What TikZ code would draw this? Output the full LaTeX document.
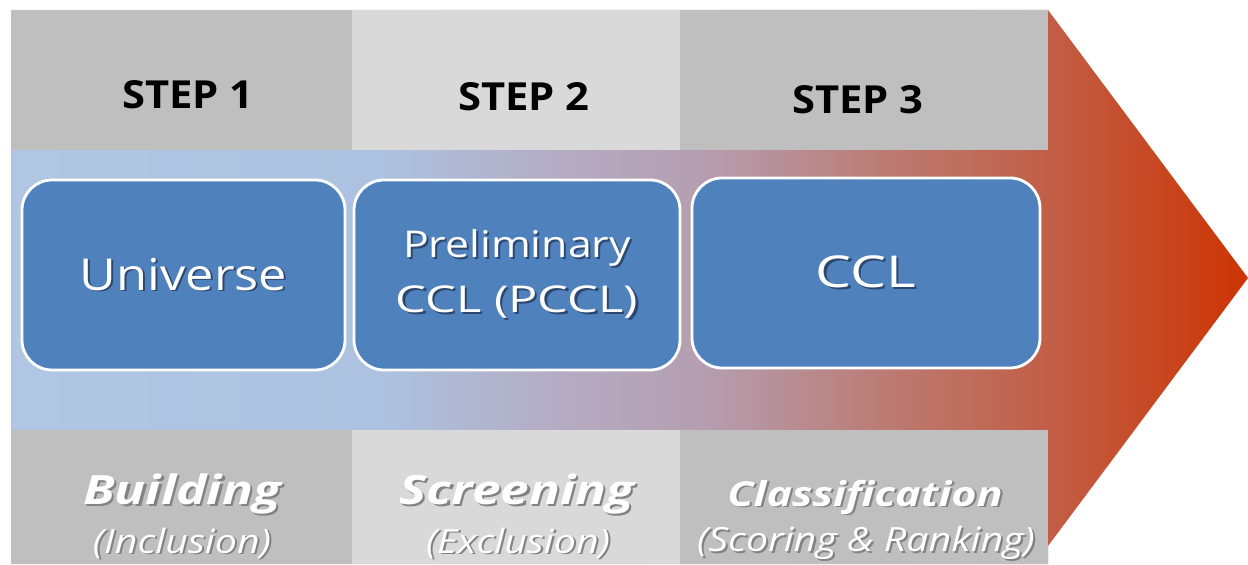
\documentclass[tikz,border=0pt]{standalone}
\usepackage{fontspec}
\setmainfont{Open Sans}

\definecolor{cellgray}{RGB}{191,191,191}
\definecolor{celllight}{RGB}{217,217,217}
\definecolor{boxblue}{RGB}{79,129,189}
\definecolor{bandA}{RGB}{176,198,227}
\definecolor{bandB}{RGB}{172,194,224}
\definecolor{bandC}{RGB}{180,172,195}
\definecolor{bandD}{RGB}{181,158,176}
\definecolor{bandE}{RGB}{188,120,110}
\definecolor{bandF}{RGB}{194,94,70}
\definecolor{bandG}{RGB}{205,52,2}
\definecolor{shadeblue}{RGB}{45,72,112}
\definecolor{shadegray}{RGB}{130,130,130}
\colorlet{txtshadow}{shadegray}

% light blue on the left, fading to rust at the tip
\pgfdeclarehorizontalshading{bandshade}{100bp}{%
  color(0bp)=(bandA); color(25bp)=(bandA); color(40bp)=(bandB);
  color(47bp)=(bandC); color(53bp)=(bandD); color(61bp)=(bandE);
  color(67bp)=(bandF); color(75bp)=(bandG); color(100bp)=(bandG)}

\newcommand{\widetext}[2][1.2]{\scalebox{#1}[1]{#2}}
\newcommand{\shadowtext}[1]{\makebox[0pt][l]{\hspace{1pt}\raisebox{-1pt}{\textcolor{txtshadow}{#1}}}#1}

\begin{document}
\begin{tikzpicture}[
  stagebox/.style={draw=white, line width=1.6pt, fill=boxblue, rounded corners=0.6cm,
    minimum height=3.8cm, inner sep=0pt, text=white, align=center,
    font=\fontsize{25}{30}\selectfont,
    execute at begin node={\colorlet{txtshadow}{shadeblue}}},
  steplabel/.style={font=\fontsize{22}{26}\selectfont\bfseries},
  phaselabel/.style={text=white, font=\fontsize{23}{27}\selectfont\bfseries\itshape},
  notelabel/.style={text=white, inner sep=0pt, font=\fontsize{19}{23}\selectfont\itshape}]

\useasboundingbox (0,0) rectangle (24.96,11.28);

% arrow body and head
\shade[shading=bandshade] (0.22,11.08) -- (20.96,11.08) -- (24.96,5.72) -- (20.96,0.36)
  -- (20.96,0) -- (0.22,0) -- cycle;

% grey cells above and below the band
\foreach \xa/\xb/\col in {0.22/7.04/cellgray, 7.04/13.6/celllight, 13.6/20.96/cellgray} {
  \fill[\col] (\xa,8.28) rectangle (\xb,11.08);
  \fill[\col] (\xa,0) rectangle (\xb,2.68);
}

\foreach \n/\x/\y in {1/3.76/9.38, 2/10.48/9.34, 3/17.16/9.28}
  \node[steplabel] (step\n) at (\x,\y) {\widetext[1.08]{STEP \n}};

% the three lists
\node[stagebox, minimum width=6.46cm] (universe) at (3.67,5.78) {\widetext[1.15]{\shadowtext{Universe}}};
\node[stagebox, minimum width=6.52cm, font=\fontsize{21}{31}\selectfont] (pccl) at (10.34,5.78)
  {\widetext[1.16]{\shadowtext{Preliminary}}\\\widetext[1.32]{\shadowtext{CCL (PCCL)}}};
\node[stagebox, minimum width=6.96cm] (ccl) at (17.32,5.82) {\widetext[1.3]{\shadowtext{CCL}}};

% what happens in each step
\node[phaselabel] (building) at (3.64,1.38) {\widetext[1.27]{\shadowtext{Building}}};
\node[notelabel] (inclusion) at (3.64,0.4) {\widetext[1.18]{\shadowtext{(Inclusion)}}};
\node[phaselabel] (screening) at (10.34,1.38) {\widetext[1.27]{\shadowtext{Screening}}};
\node[notelabel] (exclusion) at (10.36,0.4) {\widetext[1.18]{\shadowtext{(Exclusion)}}};
\node[phaselabel, font=\fontsize{19.5}{23}\selectfont\bfseries\itshape] (classification) at (17.3,1.32)
  {\widetext[1.26]{\shadowtext{Classification}}};
\node[notelabel] (scoring) at (17.32,0.4) {\widetext[1.18]{\shadowtext{(Scoring \& Ranking)}}};

\end{tikzpicture}
\end{document}
